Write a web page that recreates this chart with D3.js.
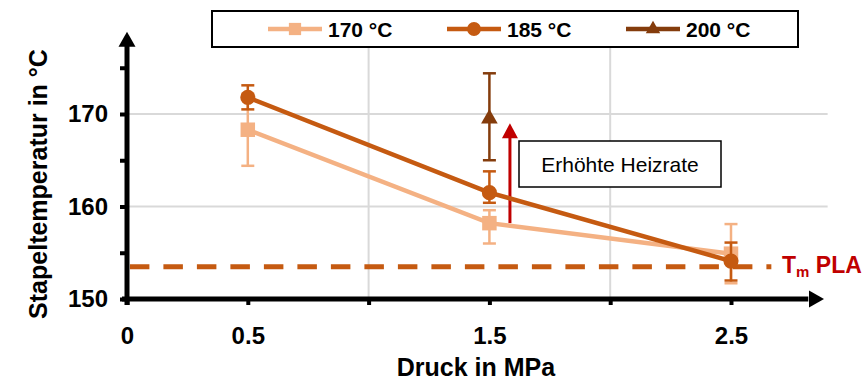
<!DOCTYPE html>
<html>
<head>
<meta charset="utf-8">
<script src="https://cdn.jsdelivr.net/npm/d3@7"></script>
<style>
  body { margin: 0; background: #fff; }
  text { font-family: "Liberation Sans", Arial, sans-serif; }
</style>
</head>
<body>
<script>
// size of the picture
var w = 866;
var h = 380;

// data
var pressure = [0.5, 1.5, 2.5];          // Druck in MPa
var temp170 = [168.3, 158.2, 154.9];
var low170  = [164.4, 156.0, 151.7];
var high170 = [172.2, 159.6, 158.1];
var temp185 = [171.8, 161.5, 154.1];
var low185  = [170.5, 160.4, 152.0];
var high185 = [173.1, 163.8, 156.1];
var pressure200 = [1.5];
var temp200 = [169.5];
var low200  = [165.0];
var high200 = [174.4];
var tmPLA = 153.5;

var xTicks = [0, 0.5, 1, 1.5, 2, 2.5];
var xLabels = ["0", "0.5", "", "1.5", "", "2.5"];
var yTicks = [150, 155, 160, 165, 170, 175];
var yLabels = ["150", "", "160", "", "170", ""];
var seriesNames = ["170 °C", "185 °C", "200 °C"];
var colors = ["#F4B183", "#C55A11", "#843C0C"];

var svg = d3.select("body").append("svg")
    .attr("width", w)
    .attr("height", h);

var x = d3.scaleLinear().domain([0, 2.5]).range([127, 731]);
var y = d3.scaleLinear().domain([150, 170]).range([299, 114]);

// gridlines
svg.selectAll("line.hgrid")
    .data([160, 170])
    .enter().append("line")
    .attr("x1", x(0)).attr("x2", x(2.9))
    .attr("y1", d => y(d)).attr("y2", d => y(d))
    .attr("stroke", "#d9d9d9").attr("stroke-width", 2);
svg.selectAll("line.vgrid")
    .data([1, 2])
    .enter().append("line")
    .attr("x1", d => x(d)).attr("x2", d => x(d))
    .attr("y1", y(150)).attr("y2", y(179))
    .attr("stroke", "#d9d9d9").attr("stroke-width", 2);

// T_m PLA dashed line
svg.append("line")
    .attr("x1", x(0.012)).attr("x2", x(2.667))
    .attr("y1", y(tmPLA)).attr("y2", y(tmPLA))
    .attr("stroke", "#C55A11").attr("stroke-width", 5)
    .attr("stroke-dasharray", "19.5,14");
var tm = svg.append("text")
    .attr("x", 782).attr("y", y(tmPLA) + 6)
    .attr("fill", "#C00000")
    .attr("font-size", 23).attr("font-weight", "bold");
tm.append("tspan").text("T");
tm.append("tspan").attr("font-size", 15).attr("dy", 4).text("m");
tm.append("tspan").attr("dy", -4).text(" PLA");

// axes
var yAxis = d3.axisLeft(y).tickValues(yTicks).tickSize(7).tickPadding(12)
    .tickFormat((d, i) => yLabels[i]);
var gy = svg.append("g").attr("transform", "translate(" + x(0) + ",0)").call(yAxis);
var xAxis = d3.axisBottom(x).tickValues(xTicks).tickSize(6).tickPadding(22)
    .tickFormat((d, i) => xLabels[i]);
var gx = svg.append("g").attr("transform", "translate(0," + y(150) + ")").call(xAxis);

[gx, gy].forEach(function(g) {
    g.select(".domain").remove();
    g.selectAll(".tick line").attr("stroke", "#000").attr("stroke-width", 4);
    g.selectAll(".tick text")
        .attr("font-family", "Liberation Sans, Arial, sans-serif")
        .attr("font-size", 24).attr("font-weight", "bold").attr("fill", "#000");
});

svg.append("line")
    .attr("x1", x(0)).attr("x2", x(0))
    .attr("y1", y(150) + 6).attr("y2", y(177.4))
    .attr("stroke", "#000").attr("stroke-width", 5);
svg.append("path")
    .attr("d", "M" + x(0) + "," + y(178.9) + "l-8.5,15h17z")
    .attr("fill", "#000");
svg.append("line")
    .attr("x1", x(0) - 5).attr("x2", x(2.82))
    .attr("y1", y(150)).attr("y2", y(150))
    .attr("stroke", "#000").attr("stroke-width", 5);
svg.append("path")
    .attr("d", "M" + x(2.885) + "," + y(150) + "l-15,-8.5v17z")
    .attr("fill", "#000");

// axis titles
svg.append("text")
    .attr("transform", "translate(47,184) rotate(-90)")
    .attr("text-anchor", "middle")
    .attr("font-size", 25).attr("font-weight", "bold")
    .text("Stapeltemperatur in °C");
svg.append("text")
    .attr("x", 476).attr("y", 376)
    .attr("text-anchor", "middle")
    .attr("font-size", 25).attr("font-weight", "bold")
    .text("Druck in MPa");

// annotation: Erhöhte Heizrate
svg.append("line")
    .attr("x1", x(1.585)).attr("x2", x(1.585))
    .attr("y1", y(158.2)).attr("y2", y(167.6))
    .attr("stroke", "#C00000").attr("stroke-width", 3);
svg.append("path")
    .attr("d", "M" + x(1.585) + "," + y(169.0) + "l-8,15h16z")
    .attr("fill", "#C00000");
svg.append("rect")
    .attr("x", 519).attr("y", 141).attr("width", 202).attr("height", 46)
    .attr("fill", "#fff").attr("stroke", "#000").attr("stroke-width", 1.5);
svg.append("text")
    .attr("x", 620).attr("y", 171.5)
    .attr("text-anchor", "middle")
    .attr("font-size", 21)
    .text("Erhöhte Heizrate");

// series
var series = [
    { xs: pressure, ys: temp170, lo: low170, hi: high170, shape: d3.symbolSquare },
    { xs: pressure, ys: temp185, lo: low185, hi: high185, shape: d3.symbolCircle },
    { xs: pressure200, ys: temp200, lo: low200, hi: high200, shape: d3.symbolTriangle }
];
var line = d3.line().x(d => x(d[0])).y(d => y(d[1]));

series.forEach(function(s, k) {
    var pts = s.xs.map((v, i) => [v, s.ys[i], s.lo[i], s.hi[i]]);
    var g = svg.append("g").attr("fill", colors[k]).attr("stroke", colors[k]);
    g.append("path")
        .attr("d", line(pts))
        .attr("fill", "none").attr("stroke-width", 4.5);
    var eb = g.selectAll("g.err").data(pts).enter().append("g");
    eb.append("line")
        .attr("x1", d => x(d[0])).attr("x2", d => x(d[0]))
        .attr("y1", d => y(d[2])).attr("y2", d => y(d[3]))
        .attr("stroke-width", 2.5);
    eb.selectAll("line.cap").data(d => [[d[0], d[2]], [d[0], d[3]]])
        .enter().append("line")
        .attr("x1", d => x(d[0]) - 6.5).attr("x2", d => x(d[0]) + 6.5)
        .attr("y1", d => y(d[1])).attr("y2", d => y(d[1]))
        .attr("stroke-width", 2.5);
    g.selectAll("path.mark").data(pts).enter().append("path")
        .attr("d", d3.symbol().type(s.shape).size(k === 0 ? 210 : (k === 1 ? 180 : 120)))
        .attr("transform", d => "translate(" + x(d[0]) + "," + y(d[1]) + ")")
        .attr("stroke", "none");
});

// legend
svg.append("rect")
    .attr("x", 212).attr("y", 11).attr("width", 586).attr("height", 36)
    .attr("fill", "#fff").attr("stroke", "#000").attr("stroke-width", 2);
var legX = [268, 447, 626];
var shapes = [d3.symbolSquare, d3.symbolCircle, d3.symbolTriangle];
var legSize = [150, 150, 90];
var leg = svg.selectAll("g.leg").data(seriesNames).enter().append("g")
    .attr("transform", (d, i) => "translate(" + legX[i] + ",29)");
leg.append("line")
    .attr("x1", 0).attr("x2", 54).attr("y1", 0).attr("y2", 0)
    .attr("stroke", (d, i) => colors[i]).attr("stroke-width", 4.5);
leg.append("path")
    .attr("d", (d, i) => d3.symbol().type(shapes[i]).size(legSize[i])())
    .attr("transform", "translate(27,0)")
    .attr("fill", (d, i) => colors[i]);
leg.append("text")
    .attr("x", 60).attr("y", 7.5)
    .attr("font-size", 21).attr("font-weight", "bold")
    .text(d => d);
</script>
</body>
</html>
